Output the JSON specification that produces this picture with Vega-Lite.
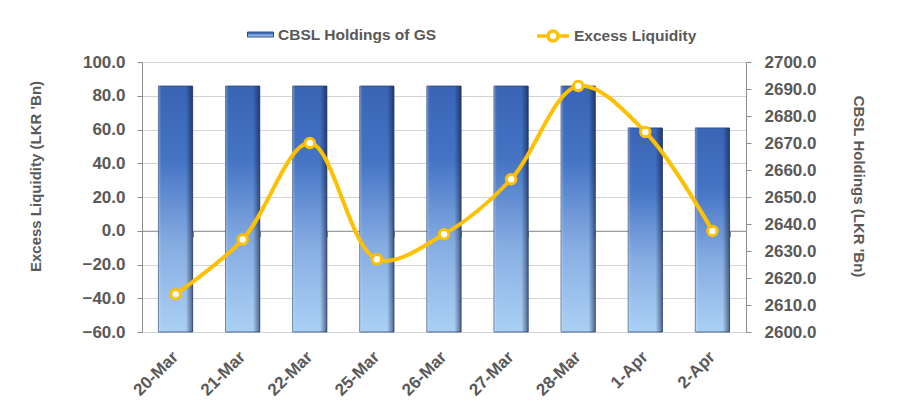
{
  "$schema": "https://vega.github.io/schema/vega-lite/v6.json",
  "width": 604,
  "height": 270,
  "autosize": {"type": "none"},
  "padding": {"left": 142, "top": 62, "right": 153, "bottom": 80},
  "background": "white",
  "config": {
    "view": {"stroke": null},
    "font": "Liberation Sans",
    "axis": {
      "labelFont": "Liberation Sans",
      "labelFontWeight": "bold",
      "labelColor": "#595959",
      "labelFontSize": 17,
      "titleFont": "Liberation Sans",
      "titleFontWeight": "bold",
      "titleColor": "#595959",
      "titleFontSize": 15,
      "domainColor": "#8C8C8C",
      "tickColor": "#8C8C8C",
      "gridColor": "#D4D4D4"
    },
    "legend": {
      "labelFont": "Liberation Sans",
      "labelFontWeight": "bold",
      "labelColor": "#595959",
      "labelFontSize": 15.5,
      "padding": 0
    }
  },
  "data": {
    "values": [
      {"date": "20-Mar", "holdings": 2691.1, "excess": -37.6},
      {"date": "21-Mar", "holdings": 2691.1, "excess": -5.2},
      {"date": "22-Mar", "holdings": 2691.1, "excess": 52.0},
      {"date": "25-Mar", "holdings": 2691.1, "excess": -16.9},
      {"date": "26-Mar", "holdings": 2691.1, "excess": -2.1},
      {"date": "27-Mar", "holdings": 2691.1, "excess": 30.5},
      {"date": "28-Mar", "holdings": 2691.1, "excess": 85.8},
      {"date": "1-Apr", "holdings": 2675.6, "excess": 58.5},
      {"date": "2-Apr", "holdings": 2675.6, "excess": -0.1}
    ]
  },
  "layer": [
    {
      "mark": {
        "type": "bar",
        "strokeWidth": 0.8,
        "fill": {
          "gradient": "linear",
          "x1": 0, "y1": 0, "x2": 0, "y2": 1,
          "stops": [
            {"offset": 0, "color": "#3A64B6"},
            {"offset": 0.3, "color": "#4574C5"},
            {"offset": 0.65, "color": "#86ADE2"},
            {"offset": 1, "color": "#ABD0F5"}
          ]
        }
      },
      "encoding": {
        "x": {
          "field": "date",
          "type": "nominal",
          "sort": null,
          "scale": {"paddingInner": 0.49, "paddingOuter": 0.245},
          "axis": {
            "title": null,
            "orient": "bottom",
            "ticks": false,
            "domain": false,
            "labelAngle": -45,
            "labelAlign": "right",
            "labelBaseline": "middle",
            "labelPadding": 22,
            "labelFontSize": 17
          }
        },
        "y": {
          "field": "holdings",
          "type": "quantitative",
          "scale": {"domain": [2600, 2700], "zero": false, "nice": false},
          "axis": {
            "orient": "right",
            "title": "CBSL Holdings (LKR 'Bn)",
            "values": [2600, 2610, 2620, 2630, 2640, 2650, 2660, 2670, 2680, 2690, 2700],
            "format": ".1f",
            "grid": false,
            "tickSize": 5,
            "labelPadding": 13,
            "titleBaseline": "middle",
            "titleX": 112,
            "titleY": 124
          }
        },
        "y2": {"datum": 2600},
        "stroke": {
          "datum": "CBSL Holdings of GS",
          "type": "nominal",
          "scale": {"range": ["#2E4A7A"]},
          "legend": {
            "orient": "none",
            "legendX": 105,
            "legendY": -41,
            "title": null,
            "symbolType": "M-1,-0.19H1V0.19H-1Z",
            "symbolSize": 676,
            "symbolStrokeWidth": 1,
            "labelOffset": 4,
            "encode": {
              "symbols": {
                "update": {
                  "fill": {
                    "value": {
                      "gradient": "linear",
                      "x1": 0, "y1": 0, "x2": 0, "y2": 1,
                      "stops": [
                        {"offset": 0, "color": "#3A64B6"},
                        {"offset": 0.5, "color": "#7FA7DE"},
                        {"offset": 1, "color": "#3A64B6"}
                      ]
                    }
                  },
                  "fillOpacity": {"value": 1}
                }
              }
            }
          }
        }
      }
    },
    {
      "mark": {
        "type": "bar",
        "fill": {
          "gradient": "linear",
          "x1": 0, "y1": 0, "x2": 1, "y2": 0,
          "stops": [
            {"offset": 0, "color": "rgba(255,255,255,0.3)"},
            {"offset": 0.08, "color": "rgba(255,255,255,0)"},
            {"offset": 0.8, "color": "rgba(10,20,50,0)"},
            {"offset": 1, "color": "rgba(10,20,50,0.55)"}
          ]
        }
      },
      "encoding": {
        "x": {"field": "date", "type": "nominal", "sort": null, "axis": null},
        "y": {"field": "holdings", "type": "quantitative", "scale": {"domain": [2600, 2700], "zero": false, "nice": false}, "axis": null},
        "y2": {"datum": 2600}
      }
    },
    {
      "mark": {"type": "line", "interpolate": "catmull-rom", "strokeWidth": 4},
      "encoding": {
        "x": {
          "field": "date",
          "type": "nominal",
          "sort": null,
          "axis": {
            "title": null,
            "orient": "bottom",
            "offset": -101.25,
            "labels": false,
            "ticks": true,
            "tickBand": "extent",
            "tickSize": 6,
            "tickWidth": 1,
            "domain": true
          }
        },
        "y": {
          "field": "excess",
          "type": "quantitative",
          "scale": {"domain": [-60, 100], "nice": false},
          "axis": {
            "orient": "left",
            "title": "Excess Liquidity (LKR 'Bn)",
            "values": [-60, -40, -20, 0, 20, 40, 60, 80, 100],
            "format": ".1f",
            "grid": true,
            "tickSize": 5,
            "labelPadding": 12,
            "titleBaseline": "middle",
            "titleX": -107,
            "titleY": 114
          }
        },
        "color": {
          "datum": "Excess Liquidity",
          "type": "nominal",
          "scale": {"range": ["#FFC000"]},
          "legend": {
            "orient": "none",
            "legendX": 393,
            "legendY": -44,
            "title": null,
            "symbolType": "M-1,0H-0.31M0.31,0H1M-0.31,0A0.31,0.31 0 1,0 0.31,0A0.31,0.31 0 1,0 -0.31,0Z",
            "symbolSize": 1024,
            "symbolStrokeWidth": 3.5,
            "labelOffset": 3,
            "encode": {
              "symbols": {
                "update": {
                  "fill": {"value": "white"},
                  "fillOpacity": {"value": 1}
                }
              }
            }
          }
        }
      }
    },
    {
      "mark": {"type": "point", "filled": true, "fill": "white", "stroke": "#FFC000", "strokeWidth": 3, "size": 90, "opacity": 1},
      "encoding": {
        "x": {"field": "date", "type": "nominal", "sort": null, "axis": null},
        "y": {"field": "excess", "type": "quantitative", "scale": {"domain": [-60, 100], "nice": false}, "axis": null}
      }
    }
  ],
  "resolve": {"scale": {"y": "independent"}, "axis": {"x": "independent"}}
}
